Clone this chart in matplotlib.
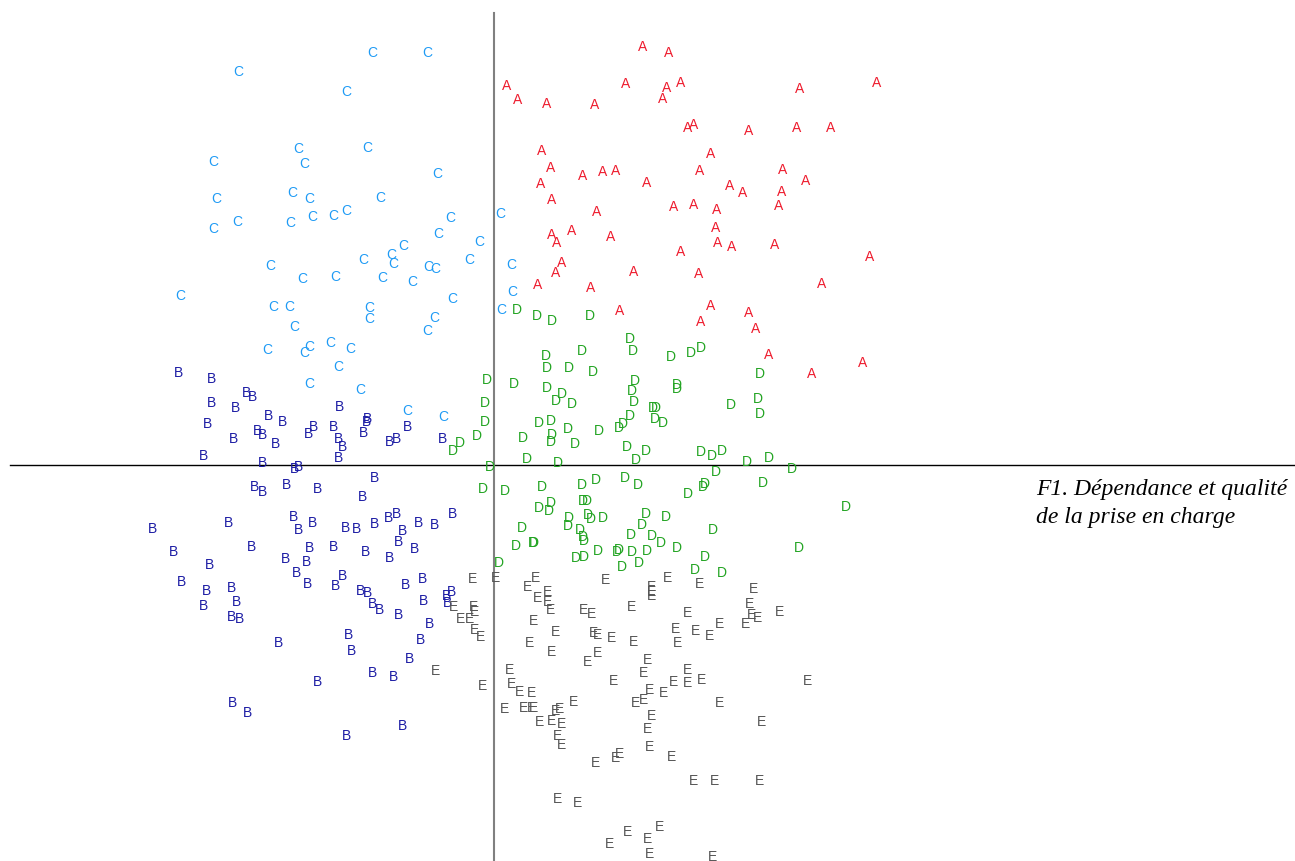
import numpy as np
import matplotlib
matplotlib.use('Agg')
import matplotlib.pyplot as plt

a_x = [1.49, 1.75, 0.13, 0.24, 0.53, 1.01, 1.32, 1.73, 1.87, 1.69, 3.06, 3.83, 1.94, 2.00, 2.55, 3.03,
       3.37, 0.48, 2.17, 0.57, 0.89, 1.09, 1.22, 2.06, 2.89, 1.53, 0.47, 2.36, 2.49, 2.88, 3.12, 0.58,
       1.03, 1.80, 2.00, 2.23, 2.85, 2.22, 0.58, 0.78, 1.17, 0.63, 2.24, 2.38, 2.81, 1.87, 3.76, 0.68,
       1.40, 0.62, 2.05, 0.44, 0.97, 3.28, 2.17, 1.26, 2.07, 2.55, 2.62, 2.75, 3.69, 3.18]
a_y = [4.18, 4.12, 3.79, 3.65, 3.61, 3.60, 3.81, 3.77, 3.82, 3.66, 3.76, 3.82, 3.37, 3.40, 3.34, 3.37,
       3.37, 3.14, 3.11, 2.97, 2.89, 2.93, 2.94, 2.94, 2.95, 2.82, 2.81, 2.79, 2.72, 2.73, 2.84, 2.65,
       2.53, 2.58, 2.60, 2.55, 2.59, 2.37, 2.30, 2.34, 2.28, 2.22, 2.22, 2.18, 2.20, 2.13, 2.08, 2.02,
       1.93, 1.92, 1.91, 1.80, 1.77, 1.81, 1.59, 1.54, 1.43, 1.52, 1.36, 1.10, 1.02, 0.91]

c_x = [-2.56, -1.22, -0.67, -1.48, -1.96, -1.90, -2.81, -1.27, -0.57, -2.78, -2.02, -1.85, -1.14, -2.81,
       -2.57, -2.04, -1.82, -1.61, -1.48, -0.44, 0.06, -0.56, -0.15, -0.91, -1.03, -1.01, -1.31, -2.24,
       -1.92, -1.59, -1.12, -0.82, -0.66, -0.59, -0.25, 0.17, -3.14, -2.21, -2.05, -0.42, 0.18, -1.25,
       -1.25, -0.60, -2.00, -0.67, 0.07, -2.27, -1.90, -1.85, -1.64, -1.44, -1.56, -1.85, -1.34, -0.87,
       -0.51]
c_y = [3.93, 4.12, 4.12, 3.73, 3.16, 3.01, 3.03, 3.17, 2.91, 2.66, 2.72, 2.66, 2.67, 2.36,
       2.43, 2.42, 2.48, 2.49, 2.54, 2.47, 2.51, 2.31, 2.23, 2.19, 2.10, 2.01, 2.05, 1.99,
       1.86, 1.88, 1.87, 1.83, 1.98, 1.96, 2.05, 2.00, 1.69, 1.58, 1.58, 1.66, 1.73, 1.57,
       1.46, 1.47, 1.38, 1.34, 1.55, 1.15, 1.12, 1.18, 1.22, 1.16, 0.98, 0.81, 0.75, 0.54,
       0.48]

b_x = [-3.16, -2.83, -2.83, -2.87, -2.91, -2.59, -2.48, -2.42, -2.26, -2.12, -2.61, -2.37, -2.32, -2.18,
       -1.86, -1.81, -2.32, -1.55, -1.61, -1.56, -1.52, -1.56, -1.31, -1.28, -1.27, -0.87, -1.05, -0.98,
       -0.52, -2.00, -1.96, -1.20, -2.40, -2.32, -2.08, -1.77, -1.32, -3.42, -2.66, -2.01, -1.96, -1.82,
       -1.49, -1.38, -1.20, -1.06, -0.98, -0.92, -0.96, -0.76, -0.60, -0.42, -3.21, -2.43, -1.85, -1.61,
       -1.29, -1.05, -0.80, -2.09, -1.88, -1.98, -1.87, -1.59, -1.52, -2.85, -3.13, -2.88, -2.63, -2.91,
       -2.58, -2.63, -2.55, -1.34, -1.27, -1.22, -1.15, -0.96, -0.89, -0.72, -0.71, -0.65, -0.48, -0.43,
       -0.47, -1.46, -1.43, -2.16, -0.74, -0.85, -1.22, -1.01, -1.77, -2.62, -2.47, -1.48, -0.92]
b_y = [0.92, 0.86, 0.62, 0.41, 0.09, 0.57, 0.72, 0.68, 0.49, 0.43, 0.26, 0.34, 0.30, 0.21,
       0.31, 0.38, 0.02, 0.58, 0.38, 0.26, 0.18, 0.07, 0.32, 0.43, 0.46, 0.38, 0.23, 0.26,
       0.26, -0.04, -0.02, -0.13, -0.22, -0.27, -0.20, -0.24, -0.32, -0.64, -0.58, -0.52, -0.65, -0.58,
       -0.63, -0.64, -0.59, -0.53, -0.49, -0.66, -0.77, -0.58, -0.60, -0.49, -0.87, -0.82, -0.83, -0.82,
       -0.87, -0.93, -0.84, -0.94, -0.97, -1.08, -1.19, -1.21, -1.11, -1.00, -1.17, -1.26, -1.23, -1.41,
       -1.37, -1.52, -1.54, -1.26, -1.28, -1.39, -1.45, -1.50, -1.20, -1.14, -1.36, -1.59, -1.31, -1.27,
       -1.38, -1.70, -1.86, -1.78, -1.75, -1.94, -2.08, -2.12, -2.17, -2.38, -2.48, -2.71, -2.61]

d_x = [0.23, 0.43, 0.58, 0.96, 1.36, 1.39, 0.88, 0.52, 0.53, 0.75, 0.99, 1.77, 1.97, 2.07, -0.07, 0.20,
       0.53, 0.68, 0.62, 0.78, -0.09, -0.09, 0.45, 0.57, 0.74, 1.05, 1.25, 1.29, 1.36, 1.41, 1.38, 1.40,
       1.59, 1.62, 1.61, 1.69, 1.83, 1.83, 2.66, 2.37, 2.64, 2.66, -0.17, -0.34, -0.41, 0.29, 0.58, 0.57,
       0.81, 1.33, 1.52, 2.07, 2.18, 2.28, 2.53, 2.75, 0.33, 0.64, 1.42, -0.04, 2.22, 2.98, 2.69, -0.11,
       0.11, 0.48, 0.88, 1.02, 1.31, 1.44, 1.94, 2.09, 2.11, 3.52, 0.45, 0.57, 0.55, 0.89, 0.93, 0.75,
       0.74, 0.94, 0.97, 1.09, 1.52, 1.72, 1.48, 0.28, 0.86, 0.89, 0.90, 1.37, 1.58, 2.19, 0.22, 0.39,
       0.40, 1.04, 1.23, 1.25, 1.38, 1.53, 1.67, 1.83, 0.82, 0.90, 1.28, 1.45, 2.11, 3.05, 0.05, 2.01,
       2.28]
d_y = [1.55, 1.49, 1.44, 1.49, 1.26, 1.14, 1.14, 1.09, 0.97, 0.97, 0.93, 1.08, 1.12, 1.17, 0.85, 0.81,
       0.77, 0.71, 0.64, 0.61, 0.62, 0.43, 0.42, 0.44, 0.36, 0.34, 0.37, 0.41, 0.49, 0.84, 0.74, 0.63,
       0.57, 0.57, 0.46, 0.42, 0.80, 0.76, 0.91, 0.60, 0.66, 0.51, 0.29, 0.22, 0.14, 0.27, 0.30, 0.23,
       0.21, 0.18, 0.14, 0.13, 0.09, 0.14, 0.03, 0.07, 0.06, 0.02, 0.05, -0.02, -0.07, -0.04, -0.18, -0.24,
       -0.26, -0.22, -0.20, -0.15, -0.13, -0.20, -0.29, -0.22, -0.19, -0.42, -0.43, -0.38, -0.46, -0.36, -0.36, -0.53,
       -0.61, -0.50, -0.54, -0.53, -0.49, -0.52, -0.60, -0.63, -0.65, -0.72, -0.76, -0.70, -0.71, -0.65, -0.81, -0.78,
       -0.78, -0.86, -0.87, -0.85, -0.87, -0.86, -0.78, -0.83, -0.93, -0.92, -1.02, -0.98, -0.92, -0.83, -0.98, -1.05,
       -1.08]

e_x = [-0.22, 0.01, 0.41, 0.33, 0.53, 0.43, 0.54, 0.56, 1.11, 1.58, 1.58, 1.58, 1.74, 2.06, 2.59, 2.56,
       2.57, 2.63, 2.52, 2.85, 1.94, 1.38, 0.90, 0.98, -0.41, -0.21, -0.20, -0.34, -0.25, -0.20, -0.14, 0.40,
       0.62, 0.99, 1.04, 1.17, 1.39, 1.81, 2.01, 2.15, 2.26, 1.83, 0.36, 0.57, 1.03, 0.93, 1.54, 1.50,
       1.94, 0.15, -0.59, -0.12, 0.18, 0.25, 0.38, 1.19, 1.79, 1.93, 2.07, 3.14, 1.55, 1.69, 1.50, 1.42,
       0.10, 0.30, 0.38, 0.40, 0.61, 0.65, 0.80, 2.25, 0.45, 0.58, 0.67, 1.58, 1.53, 2.67, 0.64, 0.67,
       1.55, 1.25, 1.21, 1.02, 1.78, 2.00, 2.20, 2.66, 0.63, 0.84, 1.33, 1.65, 1.53, 1.15, 1.55, 2.18]
e_y = [-1.14, -1.13, -1.13, -1.22, -1.27, -1.33, -1.37, -1.45, -1.15, -1.22, -1.27, -1.31, -1.13, -1.19, -1.24, -1.39,
       -1.50, -1.53, -1.59, -1.47, -1.48, -1.42, -1.45, -1.49, -1.42, -1.42, -1.47, -1.54, -1.54, -1.65, -1.72, -1.56,
       -1.67, -1.68, -1.70, -1.73, -1.77, -1.64, -1.66, -1.71, -1.59, -1.78, -1.78, -1.87, -1.88, -1.97, -1.95, -2.08,
       -2.05, -2.05, -2.06, -2.21, -2.19, -2.27, -2.28, -2.16, -2.17, -2.18, -2.15, -2.16, -2.25, -2.28, -2.35, -2.38,
       -2.44, -2.43, -2.43, -2.43, -2.46, -2.44, -2.37, -2.38, -2.57, -2.56, -2.59, -2.51, -2.64, -2.57, -2.71, -2.80,
       -2.82, -2.89, -2.93, -2.98, -2.92, -3.16, -3.16, -3.16, -3.34, -3.38, -3.67, -3.62, -3.74, -3.79, -3.89, -3.92]

groups = [('A', a_x, a_y, '#ee1c2e'),
          ('B', b_x, b_y, '#1c1ca4'),
          ('C', c_x, c_y, '#1f9bf5'),
          ('D', d_x, d_y, '#22a422'),
          ('E', e_x, e_y, '#555555')]

fig = plt.figure(figsize=(12.95, 8.61), dpi=100)
ax = fig.add_axes([0, 0, 1, 1])
ax.set_xlim(-4.94, 8.01)
ax.set_ylim(-3.96, 4.65)
ax.axis('off')

# the two axes of the factorial map
ax.plot([-4.84, 8.01], [0, 0], color='black', lw=1)
ax.plot([0, 0], [-3.96, 4.52], color='#808080', lw=1.5)

for letter, xs, ys, col in groups:
    for x, y in zip(xs, ys):
        ax.text(x, y, letter, color=col, fontsize=10, family='Liberation Sans',
                ha='center', va='center')

ax.text(5.42, -0.385, 'F1. Dépendance et qualité\nde la prise en charge',
        family='Liberation Serif', style='italic', fontsize=17,
        ha='left', va='center', linespacing=1.45)

fig.savefig('out.png', dpi=100)
